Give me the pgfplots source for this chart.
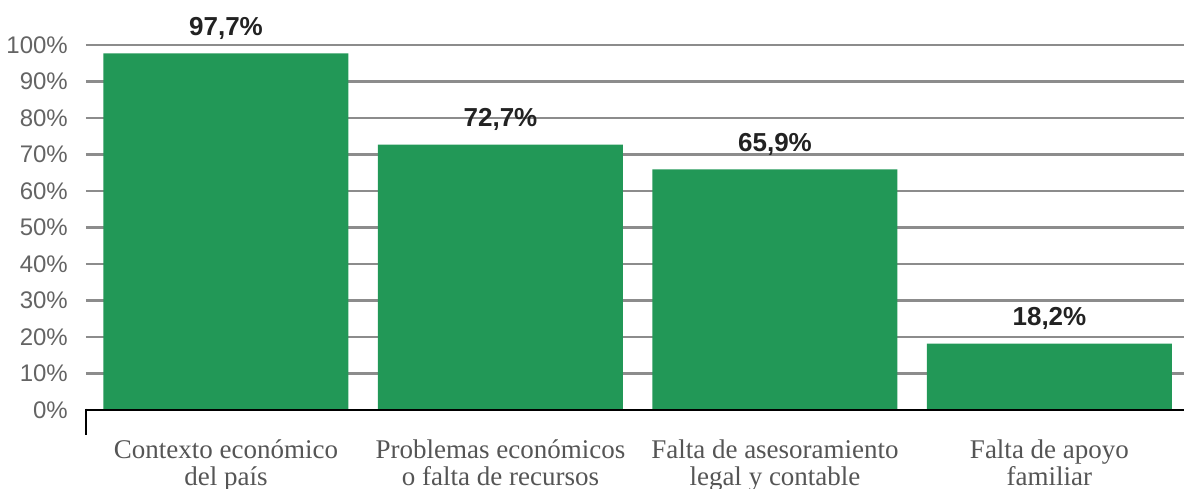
\documentclass[border=0pt]{standalone}
\usepackage{fontspec}
\setmainfont{Liberation Sans}
\newfontfamily\catfont{Liberation Serif}
\usepackage{pgfplots}
\pgfplotsset{compat=1.18}
\definecolor{bargreen}{RGB}{34,152,87}
\definecolor{gridgray}{RGB}{140,140,140}
\definecolor{ticktext}{RGB}{100,100,100}
\definecolor{cattext}{RGB}{85,85,85}
\definecolor{labtext}{RGB}{34,34,34}
\begin{document}
\begin{tikzpicture}
\useasboundingbox (0,0) rectangle (1184pt,489pt);
\begin{axis}[
  at={(86pt,79pt)}, anchor=south west,
  scale only axis, width=1098pt, height=365pt,
  xmin=-0.51, xmax=3.49, ymin=0, ymax=100,
  clip=false,
  axis line style={draw=none},
  major tick length=0pt,
  ymajorgrids, grid style={gridgray, line width=2.2pt},
  ytick={0,10,...,100},
  yticklabels={0\%,10\%,20\%,30\%,40\%,50\%,60\%,70\%,80\%,90\%,100\%},
  yticklabel style={anchor=east, inner sep=0pt, xshift=-18pt, font=\fontsize{24}{26}\selectfont, text=ticktext},
  xtick={0,1,2,3},
  xticklabels={{Contexto económico\\del país},{Problemas económicos\\o falta de recursos},{Falta de asesoramiento\\legal y contable},{Falta de apoyo\\familiar}},
  xticklabel style={align=center, anchor=north, inner sep=0pt, yshift=-30pt, font=\catfont\fontsize{27}{26.5}\selectfont, text=cattext},
  ybar, bar width=245pt, bar shift=0pt,
  nodes near coords, point meta=explicit symbolic,
  every node near coord/.append style={anchor=base, yshift=18pt, font=\bfseries\fontsize{26}{28}\selectfont, text=labtext},
]
\addplot[fill=bargreen, draw=none] coordinates {(0,97.7) [97,7\%] (1,72.7) [72,7\%] (2,65.9) [65,9\%] (3,18.2) [18,2\%]};
\draw[black, line width=2.5pt] (axis cs:-0.51,0) -- (axis cs:3.49,0);
\draw[black, line width=2.5pt] ([yshift=1.25pt]axis cs:-0.51,0) -- ([yshift=-25pt]axis cs:-0.51,0);
\end{axis}
\end{tikzpicture}
\end{document}
